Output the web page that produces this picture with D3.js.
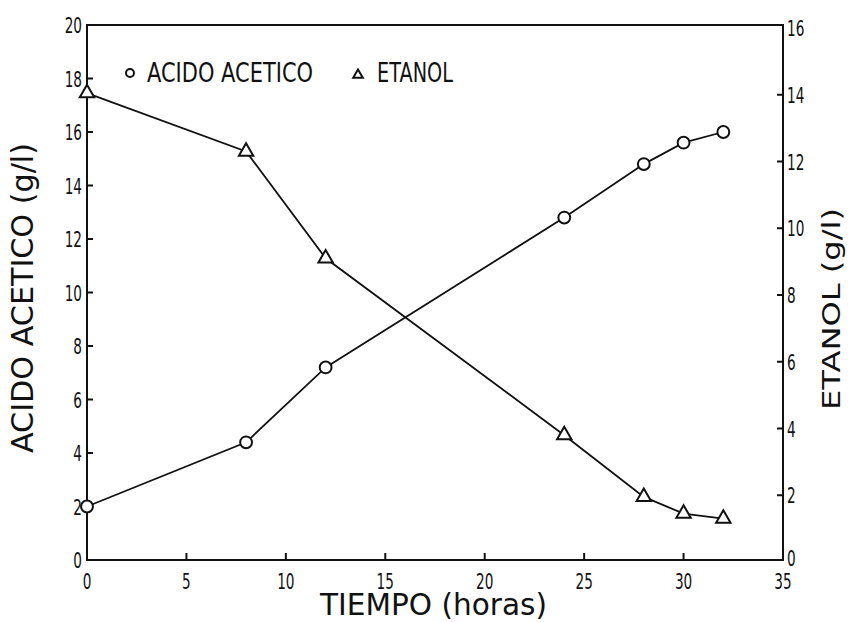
<!DOCTYPE html>
<html>
<head>
<meta charset="utf-8">
<script src="https://cdn.jsdelivr.net/npm/d3@7"></script>
<style>
  body { margin: 0; background: #fff; }
  svg text { font-family: "DejaVu Sans", sans-serif; fill: #111; }
</style>
</head>
<body>
<svg id="chart" width="851" height="622"></svg>
<script>
// data
const tiempo = [0, 8, 12, 24, 28, 30, 32];
const acido = [2.0, 4.4, 7.2, 12.8, 14.8, 15.6, 16.0];
const etanol = [14.05, 12.3, 9.1, 3.8, 1.95, 1.45, 1.3];
const xTicks = [0, 5, 10, 15, 20, 25, 30, 35];
const leftTicks = [0, 2, 4, 6, 8, 10, 12, 14, 16, 18, 20];
const rightTicks = [0, 2, 4, 6, 8, 10, 12, 14, 16];

const svg = d3.select('#chart');
const plotLeft = 87, plotRight = 783, plotTop = 25, plotBottom = 560;

const x = d3.scaleLinear().domain([0, 35]).range([plotLeft, plotRight]);
const yL = d3.scaleLinear().domain([0, 20]).range([plotBottom, plotTop]);
const yR = d3.scaleLinear().domain([0, 16]).range([plotBottom + 2, plotTop + 3]);

// condensed plotter-like digits
function tickText(g, str, px, py, anchor) {
    g.append('g')
        .attr('transform', `translate(${px},${py}) scale(0.62,1)`)
        .append('text')
        .attr('text-anchor', anchor)
        .attr('font-size', 22)
        .text(str);
}

// titles stretched to the width they take in the figure
function title(str, px, py, size, len, rot) {
    svg.append('text')
        .attr('transform', `translate(${px},${py}) rotate(${rot || 0})`)
        .attr('font-size', size)
        .attr('textLength', len)
        .attr('lengthAdjust', 'spacingAndGlyphs')
        .text(str);
}

// frame
svg.append('rect')
    .attr('x', plotLeft).attr('y', plotTop)
    .attr('width', plotRight - plotLeft).attr('height', plotBottom - plotTop)
    .attr('fill', 'none').attr('stroke', '#111').attr('stroke-width', 2);

// x axis ticks (inward)
const gx = svg.append('g');
xTicks.forEach(v => {
    if (v > 0 && v < 35) {
        gx.append('line')
            .attr('x1', x(v)).attr('x2', x(v))
            .attr('y1', plotBottom).attr('y2', plotBottom - 7)
            .attr('stroke', '#111').attr('stroke-width', 2);
    }
    tickText(gx, String(v), x(v), plotBottom + 29, 'middle');
});

// left axis
const gl = svg.append('g');
leftTicks.forEach(v => {
    if (v > 0 && v < 20) {
        gl.append('line')
            .attr('x1', plotLeft).attr('x2', plotLeft + 6)
            .attr('y1', yL(v)).attr('y2', yL(v))
            .attr('stroke', '#111').attr('stroke-width', 2);
    }
    tickText(gl, String(v), plotLeft - 5, yL(v) + 8, 'end');
});

// right axis
const gr = svg.append('g');
rightTicks.forEach(v => {
    if (v > 0 && v < 16) {
        gr.append('line')
            .attr('x1', plotRight - 6).attr('x2', plotRight)
            .attr('y1', yR(v)).attr('y2', yR(v))
            .attr('stroke', '#111').attr('stroke-width', 2);
    }
    tickText(gr, String(v), plotRight + 4, yR(v) + (v === 0 ? 4 : 8), 'start');
});

// axis titles
title('TIEMPO (horas)', 320, 615, 30, 227);
title('ACIDO ACETICO (g/l)', 33, 453, 30, 310, -90);
title('ETANOL (g/l)', 840, 410, 25, 202, -90);

// series
const acidoPts = tiempo.map((t, i) => [x(t), yL(acido[i])]);
const etanolPts = tiempo.map((t, i) => [x(t), yR(etanol[i])]);
const line = d3.line();

svg.append('path').attr('d', line(acidoPts))
    .attr('fill', 'none').attr('stroke', '#111').attr('stroke-width', 1.8);
svg.append('path').attr('d', line(etanolPts))
    .attr('fill', 'none').attr('stroke', '#111').attr('stroke-width', 1.8);

const circ = d3.symbol().type(d3.symbolCircle).size(110);
const tri = d3.symbol().type(d3.symbolTriangle).size(90);

svg.append('g').selectAll('path').data(acidoPts).enter().append('path')
    .attr('d', circ)
    .attr('transform', d => `translate(${d[0]},${d[1]})`)
    .attr('fill', '#fff').attr('stroke', '#111').attr('stroke-width', 2);

svg.append('g').selectAll('path').data(etanolPts).enter().append('path')
    .attr('d', tri)
    .attr('transform', d => `translate(${d[0]},${d[1]})`)
    .attr('fill', '#fff').attr('stroke', '#111').attr('stroke-width', 2);

// legend
svg.append('path').attr('d', d3.symbol().type(d3.symbolCircle).size(50))
    .attr('transform', 'translate(130,73)')
    .attr('fill', '#fff').attr('stroke', '#111').attr('stroke-width', 2);
title('ACIDO ACETICO', 147, 82, 27, 166);
svg.append('path').attr('d', d3.symbol().type(d3.symbolTriangle).size(40))
    .attr('transform', 'translate(358,75)')
    .attr('fill', '#fff').attr('stroke', '#111').attr('stroke-width', 2);
title('ETANOL', 377, 82, 27, 76);
</script>
</body>
</html>
